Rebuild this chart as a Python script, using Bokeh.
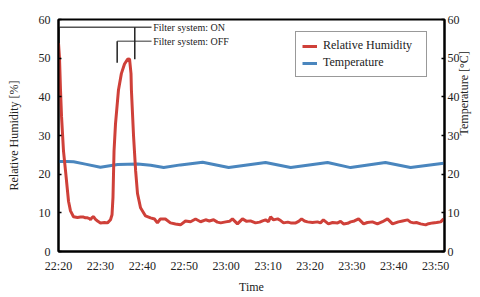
import math
from bokeh.plotting import figure
from bokeh.models import Range1d, LinearAxis, FixedTicker, Legend, LegendItem
from bokeh.core.properties import value
from bokeh.embed import file_html
from bokeh.resources import INLINE

# Time in minutes after 22:20
rh_time = [0.0, 0.24, 0.48, 0.72, 1.19, 1.67, 2.39, 2.86, 3.58, 4.53, 5.25, 5.97, 6.44, 6.92,
           7.40, 7.64, 8.0, 8.35, 8.83, 9.31, 10.02, 10.98, 11.69, 12.41, 12.77, 13.0, 13.25,
           13.6, 14.3, 15.0, 15.75, 16.47, 16.95, 17.3, 17.4, 17.9, 18.4, 18.85, 19.57, 20.76,
           21.96, 22.9, 23.6, 24.3, 25.5, 26.7, 27.9, 29.1, 30.3, 31.5, 32.7, 33.9, 35.1, 36.0,
           37.0, 37.9, 38.7, 39.9, 40.8, 41.5, 42.7, 43.9, 44.9, 45.8, 47.0, 48.0, 48.7, 49.4,
           50.1, 50.6, 51.3, 52.3, 53.0, 53.7, 54.7, 55.4, 56.6, 57.3, 58.0, 58.7, 59.4, 60.6,
           61.8, 62.5, 63.2, 64.4, 65.4, 66.6, 67.3, 68.0, 69.0, 69.7, 70.6, 71.6, 72.8, 73.7,
           74.9, 76.1, 77.3, 78.5, 79.7, 81.1, 82.1, 83.3, 84.0, 84.7, 85.4, 86.4, 87.6, 88.3,
           89.3, 90.2, 91.2, 91.9]
rh_values = [53.9, 50.0, 41.7, 35.0, 26.0, 20.9, 13.0, 10.5, 9.0, 8.8, 8.9, 8.9, 8.7, 8.7,
             8.5, 8.2, 8.8, 9.0, 8.3, 7.9, 7.4, 7.5, 7.4, 8.2, 9.5, 14.0, 26.0,
             33.0, 41.7, 46.0, 48.5, 49.7, 49.8, 46.0, 41.7, 30.0, 20.9, 15.0, 11.3, 9.2,
             8.7, 8.4, 7.4, 8.4, 8.4, 7.4, 7.1, 6.9, 7.9, 7.7, 8.4, 7.7, 8.2, 7.9,
             8.2, 7.6, 7.4, 7.66, 7.8, 8.44, 7.14, 8.44, 7.8, 7.92, 7.4, 7.6, 7.92, 8.18,
             7.7, 8.96, 8.18, 8.44, 8.0, 7.4, 7.6, 7.4, 7.4, 7.8, 8.44, 7.9, 7.66, 7.5,
             7.66, 7.4, 8.18, 7.14, 7.5, 7.4, 7.8, 7.14, 7.3, 7.66, 7.9, 8.44, 7.14, 7.5,
             7.66, 7.14, 7.7, 8.44, 7.14, 7.66, 7.9, 8.18, 7.6, 7.4, 7.5, 7.14, 6.88, 7.2,
             7.4, 7.5, 7.66, 8.44]

temp_time = [0.0, 2.1, 3.6, 6.4, 10.0, 14.1, 18.9, 22.0, 25.1, 29.1, 34.4, 40.6, 49.4, 55.4,
             64.2, 69.7, 78.0, 84.0, 91.9]
temp_values = [23.3, 23.3, 23.2, 22.6, 21.8, 22.5, 22.6, 22.3, 21.7, 22.4, 23.1, 21.7, 23.0,
               21.7, 23.0, 21.7, 23.0, 21.7, 22.8]

tick_minutes = [0, 10, 20, 30, 40, 50, 60, 70, 80, 90]
tick_labels = ["22:20", "22:30", "22:40", "22:50", "23:00", "23:10", "23:20", "23:30", "23:40", "23:50"]
y_ticks = [0, 10, 20, 30, 40, 50, 60]

# annotation brackets (minutes, %RH)
on_times = [0.1, 18.2]
on_bottoms = [53.9, 49.7]
on_level = 58.0
off_time = 14.0
off_bottom = 48.8
off_level = 54.4
bracket_end = 22.2
label_x = 22.6
annot_labels = ["Filter system: ON", "Filter system: OFF"]

FONT = "Liberation Serif"
RED = "#CF4039"
BLUE = "#4A86BE"

p = figure(width=480, height=297, output_backend="svg", toolbar_location=None,
           x_range=Range1d(0, 92.1), y_range=Range1d(0, 60),
           min_border_left=58, min_border_right=36, min_border_top=19, min_border_bottom=46)
p.extra_y_ranges = {"temp": Range1d(0, 60)}
p.grid.visible = False
p.outline_line_color = "black"
p.outline_line_width = 2
p.background_fill_color = "white"
p.border_fill_color = "white"

def style_axis(ax):
    ax.axis_line_color = "black"
    ax.axis_line_width = 2
    ax.major_tick_line_color = "black"
    ax.major_tick_line_width = 1.5
    ax.major_tick_in = 3
    ax.major_tick_out = 0
    ax.minor_tick_line_color = None
    ax.major_label_text_font = FONT
    ax.major_label_text_font_size = "12px"
    ax.major_label_text_color = "#222222"
    ax.axis_label_text_font = FONT
    ax.axis_label_text_font_size = "12px"
    ax.axis_label_text_font_style = "normal"
    ax.axis_label_text_color = "#222222"

xa = p.xaxis[0]
style_axis(xa)
xa.ticker = FixedTicker(ticks=tick_minutes)
xa.major_label_overrides = {t: l for t, l in zip(tick_minutes, tick_labels)}
xa.major_tick_in = 0
xa.major_label_standoff = 7
xa.axis_label = "Time"
xa.axis_label_standoff = 4

ya = p.yaxis[0]
style_axis(ya)
ya.ticker = FixedTicker(ticks=y_ticks)
ya.major_label_standoff = 8
ya.axis_label = "Relative Humidity [%]"
ya.axis_label_standoff = 15

ra = LinearAxis(y_range_name="temp", axis_label="Temperature [°C]")
style_axis(ra)
ra.ticker = FixedTicker(ticks=y_ticks)
ra.major_label_standoff = 3
ra.axis_label_standoff = 1
ra.axis_label_orientation = math.pi / 2
p.add_layout(ra, "right")

r_temp = p.line(temp_time, temp_values, line_color=BLUE, line_width=3, y_range_name="temp")
r_rh = p.line(rh_time, rh_values, line_color=RED, line_width=3)

# brackets
p.segment(x0=[0.1, off_time], y0=[on_level, off_level], x1=[bracket_end, bracket_end],
          y1=[on_level, off_level], line_color=["#555555", "#777777"], line_width=1.5)
p.segment(x0=on_times + [off_time], y0=[on_level, on_level, off_level],
          x1=on_times + [off_time], y1=on_bottoms + [off_bottom],
          line_color="#222222", line_width=1.5)
p.text(x=[label_x, label_x], y=[on_level, off_level], text=annot_labels,
       text_font=value(FONT), text_font_size="10px", text_color="#222222",
       text_baseline="middle", text_align="left")

legend = Legend(items=[LegendItem(label="Relative Humidity", renderers=[r_rh]),
                       LegendItem(label="Temperature", renderers=[r_temp])],
                location=(237, 174), orientation="vertical")
legend.padding = 6
legend.margin = 0
legend.spacing = 2
legend.glyph_width = 15
legend.glyph_height = 14
legend.label_height = 14
legend.label_width = 97
legend.label_standoff = 6
legend.label_text_font = FONT
legend.label_text_font_size = "12px"
legend.label_text_color = "#222222"
legend.border_line_color = "#333333"
legend.border_line_width = 1
legend.background_fill_alpha = 1
p.add_layout(legend)

open("out.html", "w").write(file_html(p, INLINE))
